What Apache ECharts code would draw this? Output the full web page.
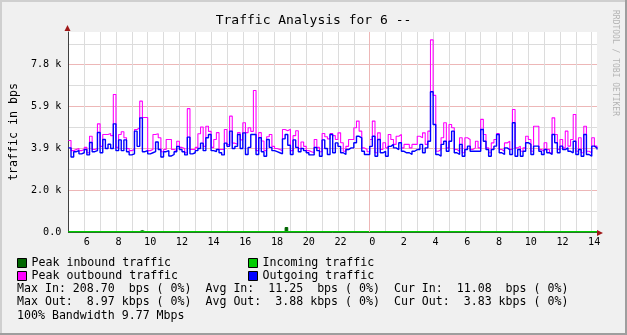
<!DOCTYPE html>
<html><head><meta charset="utf-8">
<script src="https://cdn.jsdelivr.net/npm/echarts@6/dist/echarts.min.js"></script>
<style>html,body{margin:0;padding:0;background:#f0f0f0;}#c{width:627px;height:335px;}</style>
</head><body><div id="c"></div>
<script>
// time axis: 10-minute samples from 05:00 to 14:20 next day
const startMinute = 300;
const stepMinutes = 10;
const sampleCount = 201;
const categories = [];
for (let i = 0; i < sampleCount; i++) {
  const m = startMinute + stepMinutes * i;
  categories.push(String(Math.floor(m / 60) % 24).padStart(2, '0') + ':' + String(m % 60).padStart(2, '0'));
}

// Outgoing traffic (bps)
const outgoing = [
3930,3500,3750,3800,3650,3700,3850,3600,4180,3750,3800,4650,3700,4320,3900,4100,3900,5050,3800,4300,
3800,4300,3750,3600,3650,4710,4000,5330,3750,3800,3650,3700,3750,4200,3850,3500,3750,3800,3550,3620,
3750,4000,3850,3750,3600,4430,3650,3700,3800,3900,4150,3800,4400,4550,3800,3750,3850,3700,3600,4150,
4000,4710,3900,4000,4550,3900,4630,3620,3950,4550,4550,3620,4400,3750,3540,4320,3950,3800,3750,3700,
3650,4350,4550,4050,3620,4300,3950,3750,3900,3800,3700,3600,3600,3950,3800,3540,4300,3900,3620,4550,
3700,4160,4000,3700,3620,3850,3930,3930,4170,4470,4400,3770,3620,3620,4000,4470,3540,4320,3700,3770,
3540,4000,4090,3930,3850,4170,3770,3700,3700,3620,3770,3850,3850,4090,3700,3930,4240,6550,5020,3620,
3540,4090,4240,3770,4240,4710,3700,3620,4090,3540,3850,4010,3770,3770,3770,3770,4790,4240,3850,3540,
3850,4010,4550,3700,3620,3930,3850,3620,5100,3540,3850,3540,3770,4170,4090,3620,4010,4010,3770,3620,
3850,3700,3620,4550,4170,3700,4010,3850,3930,3770,3700,4240,3620,3850,3540,4550,3620,3540,4010,3930,
3850
];
// Peak outbound traffic (bps)
const peakOutbound = [
4270,3800,3850,3900,3800,3850,3950,3700,4470,3850,3900,5050,4000,4550,4550,4600,4500,6420,3950,4550,
4680,4400,3900,3800,3850,4790,4870,6110,5350,5350,3800,3850,4550,4590,4400,3750,3850,4320,4320,3850,
3800,4240,3950,3900,3700,5760,3850,3850,3950,4590,4900,4000,4940,4700,3950,4320,4640,3850,3850,4790,
4080,5410,4150,4100,4640,4300,5100,4640,4870,4700,6610,3800,4640,4250,3800,4450,4550,4000,3900,3850,
3800,4790,4730,4800,3800,4500,4730,3900,4200,4000,3800,3750,3700,4320,3950,3750,4600,4450,4350,4600,
4500,4320,4630,4170,3770,4000,4320,4320,4870,5180,4710,3930,3850,3750,4320,5180,3700,4630,3850,4170,
3930,4550,4320,4090,4470,4550,3930,4090,4090,3930,4090,4090,4470,4400,4630,4090,4710,8970,6380,3770,
3850,4400,5100,3930,5020,4870,3850,3770,4400,3700,4400,4320,3850,3930,4240,3930,5260,4550,3930,3700,
4160,4320,4600,3850,3770,4160,4240,3850,5720,3930,4010,3770,3930,4470,4320,3770,4940,4940,3850,3770,
4170,3850,3700,5330,4550,3850,4320,3930,4710,4010,4320,5490,3770,4400,3700,4940,3770,3700,4400,4010,
3930
];
// Incoming traffic (bps)
const incoming = [
11,12,10,11,11,12,11,10,11,12,11,11,10,11,12,11,11,10,12,11,
11,11,12,10,11,11,12,13,11,10,11,12,11,11,10,11,12,11,11,11,
10,11,12,11,11,10,11,11,12,11,10,11,12,11,11,11,10,12,11,11,
11,12,10,11,11,12,11,10,11,12,11,11,10,11,12,11,11,10,12,11,
11,11,14,11,11,10,11,12,11,11,10,11,12,11,11,11,10,12,11,11,
11,12,10,11,11,12,11,10,11,12,11,11,10,11,12,11,11,10,12,11,
11,11,12,10,11,11,12,11,11,10,11,12,11,11,10,11,12,11,11,11,
10,11,12,11,11,10,11,11,12,11,10,11,12,11,11,11,10,12,11,11,
11,12,10,11,11,12,11,10,11,12,11,11,10,11,12,11,11,10,12,11,
11,11,12,10,11,11,12,11,11,10,11,12,11,11,10,11,12,11,11,11,
11
];
// Peak inbound traffic (bps)
const peakInbound = [
18,20,16,19,22,17,18,21,19,16,20,18,17,22,19,18,20,17,19,21,
18,16,20,19,17,18,22,70,19,17,18,20,21,17,18,19,16,20,22,18,
17,19,21,18,16,20,19,18,22,17,18,20,19,21,16,18,19,20,17,22,
18,19,16,21,20,17,18,19,22,18,16,20,19,17,21,18,20,19,16,22,
18,20,209,24,19,17,20,18,21,16,19,22,18,17,20,19,21,18,16,20,
19,18,22,17,18,20,19,21,16,18,19,20,17,22,18,19,16,21,20,17,
18,19,22,18,16,20,19,17,21,18,20,19,16,22,18,20,19,17,18,21,
17,19,21,18,16,20,19,18,22,17,18,20,19,21,16,18,19,20,17,22,
18,19,16,21,20,17,18,19,22,18,16,20,19,17,21,18,20,19,16,22,
19,18,22,17,18,20,19,21,16,18,19,20,17,22,18,19,16,21,20,17,
18
];

const yTickStep = 976.5625;
const yMax = 9340;
const titleText = 'Traffic Analysis for 6 --';
const yTitle = 'traffic in bps';
const statsLines = [
  'Max In: 208.70  bps ( 0%)  Avg In:  11.25  bps ( 0%)  Cur In:  11.08  bps ( 0%)',
  'Max Out:  8.97 kbps ( 0%)  Avg Out:  3.88 kbps ( 0%)  Cur Out:  3.83 kbps ( 0%)',
  '100% Bandwidth 9.77 Mbps'
];
const watermark = 'RRDTOOL / TOBI OETIKER';

const MONO = '"DejaVu Sans Mono", "Liberation Mono", monospace';
const GRID_GRAY = '#dcdcdc';
const GRID_RED = '#edb7b7';

const ySplitColors = [];
for (let k = 0; k < 10; k++) ySplitColors.push(k % 2 === 0 ? GRID_RED : GRID_GRAY);
ySplitColors.push('rgba(0,0,0,0)');

function isHour(v) { return v.slice(3) === '00'; }
function hourOf(v) { return parseInt(v.slice(0, 2), 10); }

const chart = echarts.init(document.getElementById('c'), null, {renderer: 'canvas'});
const legendCommon = {
  orient: 'vertical', itemWidth: 9, itemHeight: 9, itemGap: 1, icon: 'rect',
  padding: 0, selectedMode: false,
  textStyle: {fontFamily: MONO, fontSize: 11.6, color: '#000'},
  itemStyle: {borderColor: '#000', borderWidth: 1}
};
chart.setOption({
  animation: false,
  backgroundColor: '#f0f0f0',
  title: {
    text: titleText, left: 'center', top: 9,
    textStyle: {fontFamily: MONO, fontSize: 13, fontWeight: 'normal', color: '#000'}
  },
  legend: [
    Object.assign({left: 17, top: 257, data: ['Peak inbound traffic', 'Peak outbound traffic']}, legendCommon),
    Object.assign({left: 248, top: 257, data: ['Incoming traffic', 'Outgoing traffic']}, legendCommon)
  ],
  grid: {left: 67, right: 30, top: 32, bottom: 103, show: true, backgroundColor: '#ffffff', borderWidth: 0, containLabel: false},
  xAxis: {
    type: 'category', data: categories, boundaryGap: false,
    axisLine: {show: true, lineStyle: {color: '#404040', width: 1}},
    axisTick: {show: false},
    axisLabel: {
      interval: function (i, v) { return isHour(v) && hourOf(v) % 2 === 0; },
      formatter: function (v) { return String(hourOf(v)); },
      fontFamily: MONO, fontSize: 10.15, color: '#000', margin: 5, padding: [0, 0, 0, 5]
    },
    splitLine: {show: true, interval: function (i, v) { return isHour(v); }, lineStyle: {color: GRID_GRAY, width: 1}}
  },
  yAxis: {
    type: 'value', min: 0, max: yMax, interval: yTickStep,
    name: yTitle, nameLocation: 'middle', nameGap: 44, nameRotate: 90,
    nameTextStyle: {fontFamily: MONO, fontSize: 11.6, color: '#000'},
    axisLine: {show: true, lineStyle: {color: '#404040', width: 1}},
    axisTick: {show: false},
    axisLabel: {
      showMaxLabel: false,
      fontFamily: MONO, fontSize: 10.15, color: '#000', margin: 7,
      formatter: function (v) {
        const r = v / (2 * yTickStep);
        if (Math.abs(r - Math.round(r)) > 1e-6 || v > 8000) return '';
        return v === 0 ? '0.0' : (v / 1000).toFixed(1) + ' k';
      }
    },
    splitLine: {show: true, lineStyle: {color: ySplitColors, width: 1}}
  },
  series: [
    {
      name: 'Peak inbound traffic', type: 'line', step: 'end', data: peakInbound, showSymbol: false,
      color: '#006600', lineStyle: {width: 1, color: '#006600'}, areaStyle: {color: '#006600', opacity: 1}, z: 1,
      markLine: {
        silent: true, symbol: 'none', label: {show: false},
        lineStyle: {color: GRID_RED, width: 1, type: 'solid'},
        data: [{xAxis: '00:00'}]
      }
    },
    {
      name: 'Incoming traffic', type: 'line', step: 'end', data: incoming, showSymbol: false,
      color: '#00cc00', lineStyle: {width: 1.5, color: '#00cc00'}, areaStyle: {color: '#00cc00', opacity: 1}, z: 3
    },
    {
      name: 'Peak outbound traffic', type: 'line', step: 'end', data: peakOutbound, showSymbol: false,
      color: '#ff00ff', lineStyle: {width: 1.1, color: '#ff00ff'}, z: 4
    },
    {
      name: 'Outgoing traffic', type: 'line', step: 'end', data: outgoing, showSymbol: false,
      color: '#0000ff', lineStyle: {width: 1.4, color: '#0000ff'}, z: 5
    }
  ],
  graphic: [
    {type: 'rect', shape: {x: 0, y: 0, width: 627, height: 2}, style: {fill: '#cfcfcf'}, silent: true},
    {type: 'rect', shape: {x: 0, y: 0, width: 2, height: 335}, style: {fill: '#cfcfcf'}, silent: true},
    {type: 'rect', shape: {x: 0, y: 333, width: 627, height: 2}, style: {fill: '#9e9e9e'}, silent: true},
    {type: 'rect', shape: {x: 625, y: 0, width: 2, height: 335}, style: {fill: '#9e9e9e'}, silent: true},
    {type: 'polygon', shape: {points: [[64.5, 31], [70.5, 31], [67.5, 25]]}, style: {fill: '#a01818'}, silent: true, z: 10},
    {type: 'polygon', shape: {points: [[597, 230], [597, 236], [603, 233]]}, style: {fill: '#a01818'}, silent: true, z: 10},
    {type: 'text', x: 615, y: 63, rotation: -Math.PI / 2, silent: true,
      style: {text: watermark, fontFamily: MONO, fontSize: 8, fill: '#b4b4b4', align: 'center', verticalAlign: 'middle'}},
    {type: 'text', x: 17, y: 289, silent: true, style: {text: statsLines[0], fontFamily: MONO, fontSize: 11.6, fill: '#000', verticalAlign: 'middle'}},
    {type: 'text', x: 17, y: 302, silent: true, style: {text: statsLines[1], fontFamily: MONO, fontSize: 11.6, fill: '#000', verticalAlign: 'middle'}},
    {type: 'text', x: 17, y: 316, silent: true, style: {text: statsLines[2], fontFamily: MONO, fontSize: 11.6, fill: '#000', verticalAlign: 'middle'}}
  ]
});
</script></body></html>
